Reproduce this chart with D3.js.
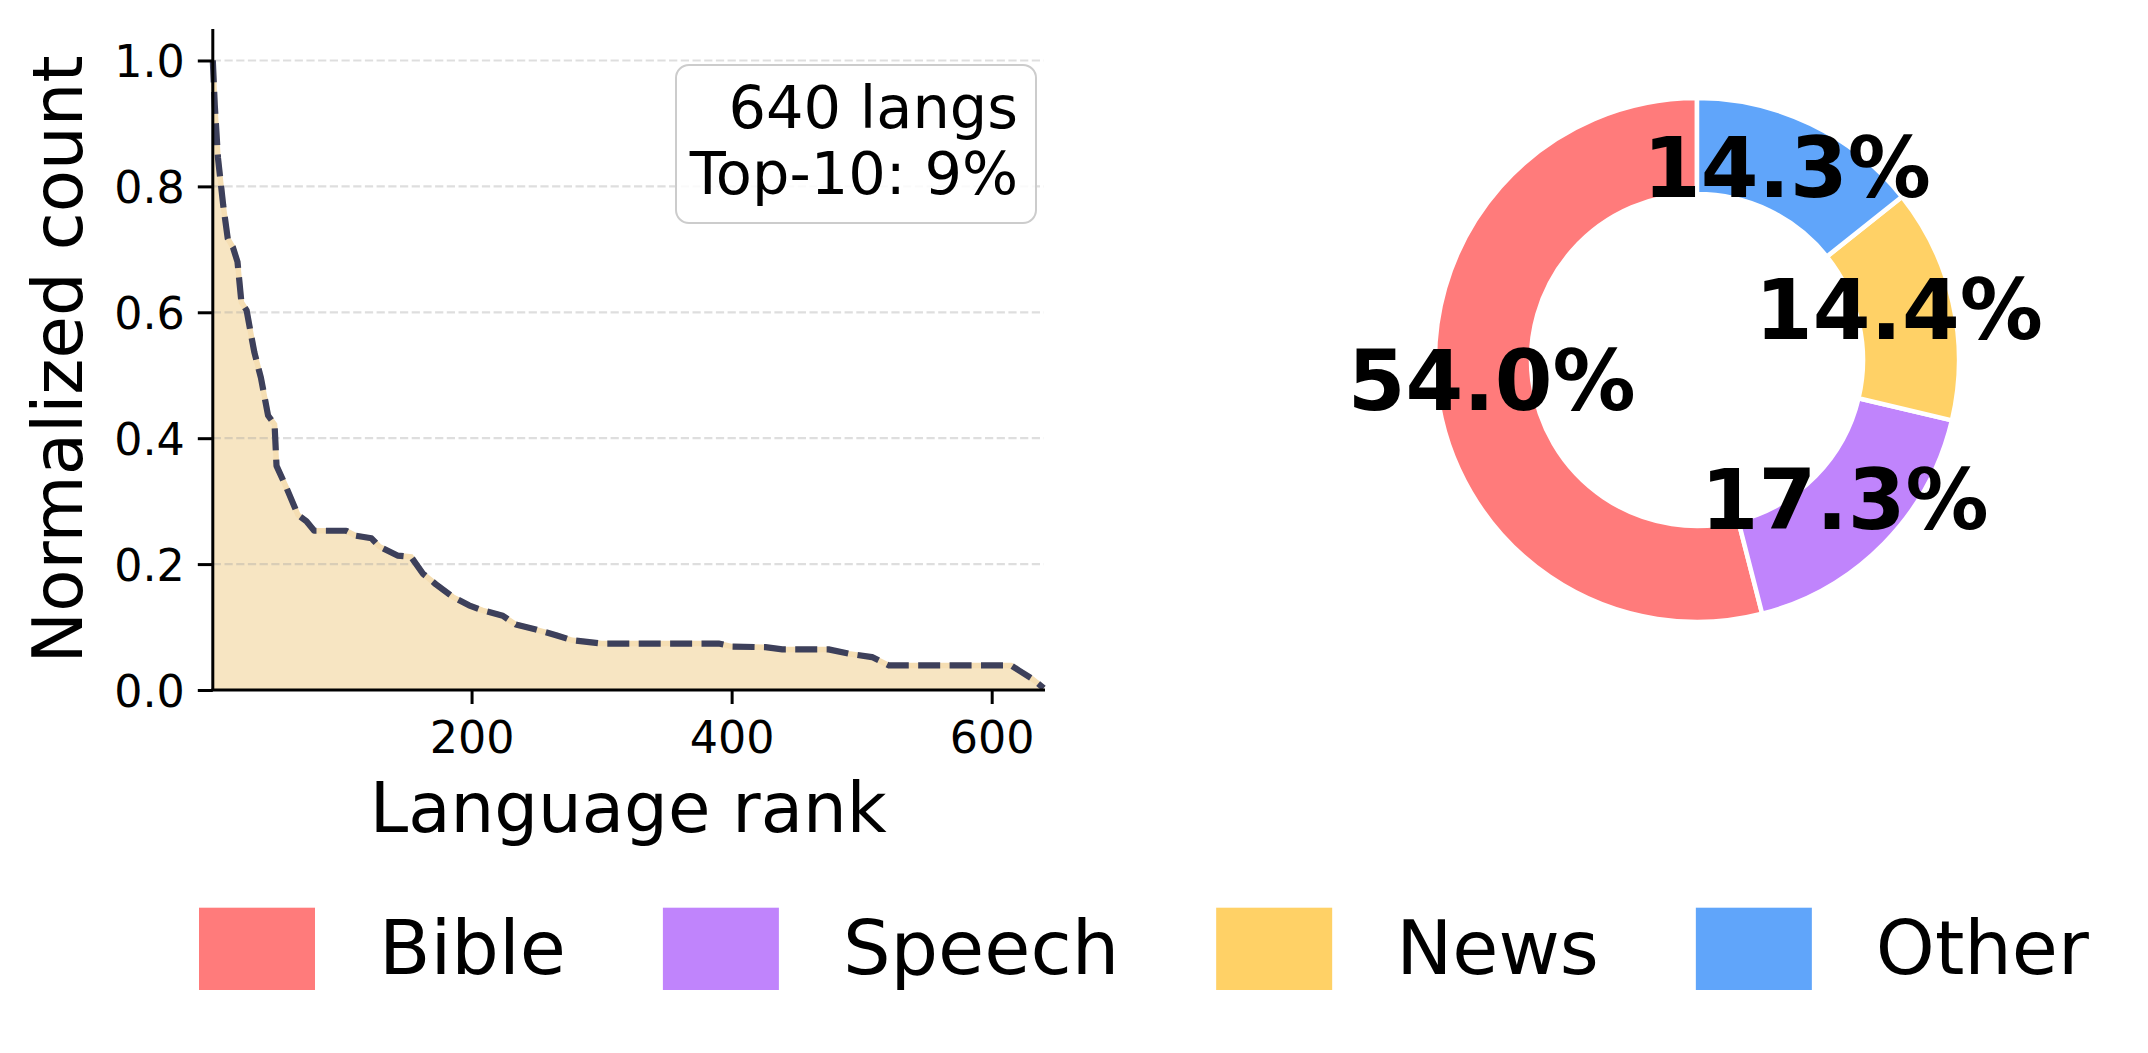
<!DOCTYPE html>
<html>
<head>
<meta charset="utf-8">
<script src="https://cdn.jsdelivr.net/npm/d3@7"></script>
<style>
  html, body { margin: 0; padding: 0; background: #ffffff; }
  svg { display: block; }
  text { font-family: "DejaVu Sans", sans-serif; fill: #000; }
</style>
</head>
<body>
<svg id="chart" width="2148" height="1053"></svg>
<script>
// ---------- data ----------
const ranks  = [1, 2.5, 5, 9, 12.5, 16.5, 20, 23, 27, 30, 33, 38, 43.5, 48.5, 50, 57.5, 66.5, 73, 79,
                103.5, 111, 123, 129, 143, 153.5, 162.5, 172.5, 185.5, 198, 208.5, 224, 234, 249.5,
                265, 277.5, 300, 390, 400.5, 426, 439, 474.5, 490, 508, 521, 615, 621, 631, 640];
const counts = [1.0, 0.93, 0.845, 0.77, 0.717, 0.703, 0.68, 0.616, 0.603, 0.569, 0.536, 0.496, 0.436, 0.422, 0.356, 0.322, 0.278, 0.268, 0.253,
                0.253, 0.245, 0.241, 0.228, 0.2135, 0.2115, 0.185, 0.168, 0.148, 0.1345, 0.1265, 0.118, 0.104, 0.096,
                0.087, 0.079, 0.0738, 0.0738, 0.069, 0.068, 0.0645, 0.0645, 0.0577, 0.0523, 0.039, 0.039, 0.031, 0.018, 0.003];
const yTicks = [0.0, 0.2, 0.4, 0.6, 0.8, 1.0];
const xTicks = [200, 400, 600];
const boxLines = ["640 langs", "Top-10: 9%"];

const categories = ["Bible", "Speech", "News", "Other"];
const shares     = [54.0, 17.3, 14.4, 14.3];
const colors     = ["#FF7B7B", "#C084FC", "#FFD166", "#60A5FA"];

// ---------- setup ----------
const svg = d3.select("#chart");
svg.append("rect").attr("width", 2148).attr("height", 1053).attr("fill", "#fff");

const x = d3.scaleLinear().domain([1, 640]).range([212.8, 1043.7]);
const y = d3.scaleLinear().domain([0, 1.05]).range([690, 29]);

const pts = ranks.map((r, i) => [r, counts[i]]);

// area
svg.append("path")
  .datum(pts)
  .attr("d", d3.area().x(d => x(d[0])).y0(y(0)).y1(d => y(d[1])))
  .attr("fill", "#F5DEB3").attr("fill-opacity", 0.8);

// wheat edge under dashes
svg.append("path")
  .datum(pts)
  .attr("d", d3.line().x(d => x(d[0])).y(d => y(d[1])))
  .attr("fill", "none").attr("stroke", "#F5DEB3").attr("stroke-width", 5.5);

// grid
svg.append("g").selectAll("line").data(yTicks.filter(t => t > 0)).join("line")
  .attr("x1", x(1)).attr("x2", x(640))
  .attr("y1", d => y(d)).attr("y2", d => y(d))
  .attr("stroke", "#a0a0a0").attr("stroke-opacity", 0.35)
  .attr("stroke-width", 2.2).attr("stroke-dasharray", "8.2,3.5");

// dashed line
svg.append("path")
  .datum(pts)
  .attr("d", d3.line().x(d => x(d[0])).y(d => y(d[1])))
  .attr("fill", "none").attr("stroke", "#3D405B").attr("stroke-width", 6.2)
  .attr("stroke-dasharray", "22,9.4").attr("stroke-linejoin", "round");

// axes
const yAxis = d3.axisLeft(y).tickValues(yTicks).tickFormat(d3.format(".1f")).tickSize(15).tickPadding(13);
const gy = svg.append("g").attr("transform", `translate(${x(1)},0)`).call(yAxis);
gy.select(".domain").attr("d", `M0,${y(1.05)}V${y(0)}`).attr("stroke", "#000").attr("stroke-width", 3);
gy.selectAll(".tick line").attr("stroke", "#000").attr("stroke-width", 3);
gy.selectAll(".tick text").attr("font-size", 44.4).attr("font-family", "DejaVu Sans").attr("fill", "#000")
  .attr("dy", null).attr("y", 16.2);

const xAxis = d3.axisBottom(x).tickValues(xTicks).tickFormat(d3.format("d")).tickSize(14).tickPadding(0);
const gx = svg.append("g").attr("transform", `translate(0,${y(0)})`).call(xAxis);
gx.select(".domain").attr("d", `M${x(1) - 1.5},0H${x(640) + 1.3}`).attr("stroke", "#000").attr("stroke-width", 3);
gx.selectAll(".tick line").attr("stroke", "#000").attr("stroke-width", 3);
gx.selectAll(".tick text").attr("font-size", 44.4).attr("font-family", "DejaVu Sans").attr("fill", "#000")
  .attr("dy", null).attr("y", 62.7);

// axis labels
svg.append("text").attr("x", (x(1) + x(640)) / 2).attr("y", 831.7)
  .attr("text-anchor", "middle").attr("font-size", 69).text("Language rank");
svg.append("text").attr("transform", "translate(81.7,359.5) rotate(-90)")
  .attr("text-anchor", "middle").attr("font-size", 69).text("Normalized count");

// annotation box
svg.append("rect").attr("x", 676).attr("y", 65).attr("width", 360).attr("height", 158)
  .attr("rx", 13).attr("fill", "#fff").attr("fill-opacity", 0.85)
  .attr("stroke", "#cccccc").attr("stroke-width", 2);
svg.append("g").selectAll("text").data(boxLines).join("text")
  .attr("x", 1018).attr("y", (d, i) => 128.3 + i * 65.7)
  .attr("text-anchor", "end").attr("font-size", 59).text(d => d);

// ---------- donut ----------
const cx = 1697, cy = 360, R = 262, r0 = 166, rl = 207;
const pie = d3.pie().sort(null).startAngle(0).endAngle(-2 * Math.PI).value(d => d);
const arcs = pie(shares);
const arc = d3.arc().innerRadius(r0).outerRadius(R);
const gp = svg.append("g").attr("transform", `translate(${cx},${cy})`);
gp.selectAll("path").data(arcs).join("path")
  .attr("d", arc)
  .attr("fill", (d, i) => colors[i])
  .attr("stroke", "#fff").attr("stroke-width", 4.5).attr("stroke-linejoin", "miter");
gp.selectAll("text").data(arcs).join("text")
  .attr("x", d => rl * Math.sin((d.startAngle + d.endAngle) / 2))
  .attr("y", d => -rl * Math.cos((d.startAngle + d.endAngle) / 2) + 23.8)
  .attr("text-anchor", "middle").attr("font-size", 83).attr("font-weight", "bold")
  .text(d => d3.format(".1f")(d.data) + "%");

// ---------- legend ----------
const lg = svg.append("g");
let lx = 199;
categories.forEach((c, i) => {
  lg.append("rect").attr("x", lx).attr("y", 907.7).attr("width", 116).attr("height", 82.3).attr("fill", colors[i]);
  const t = lg.append("text").attr("x", lx + 116 + 64).attr("y", 974).attr("font-size", 75).text(c);
  lx = lx + 116 + 64 + t.node().getComputedTextLength() + 97;
});
</script>
</body>
</html>
